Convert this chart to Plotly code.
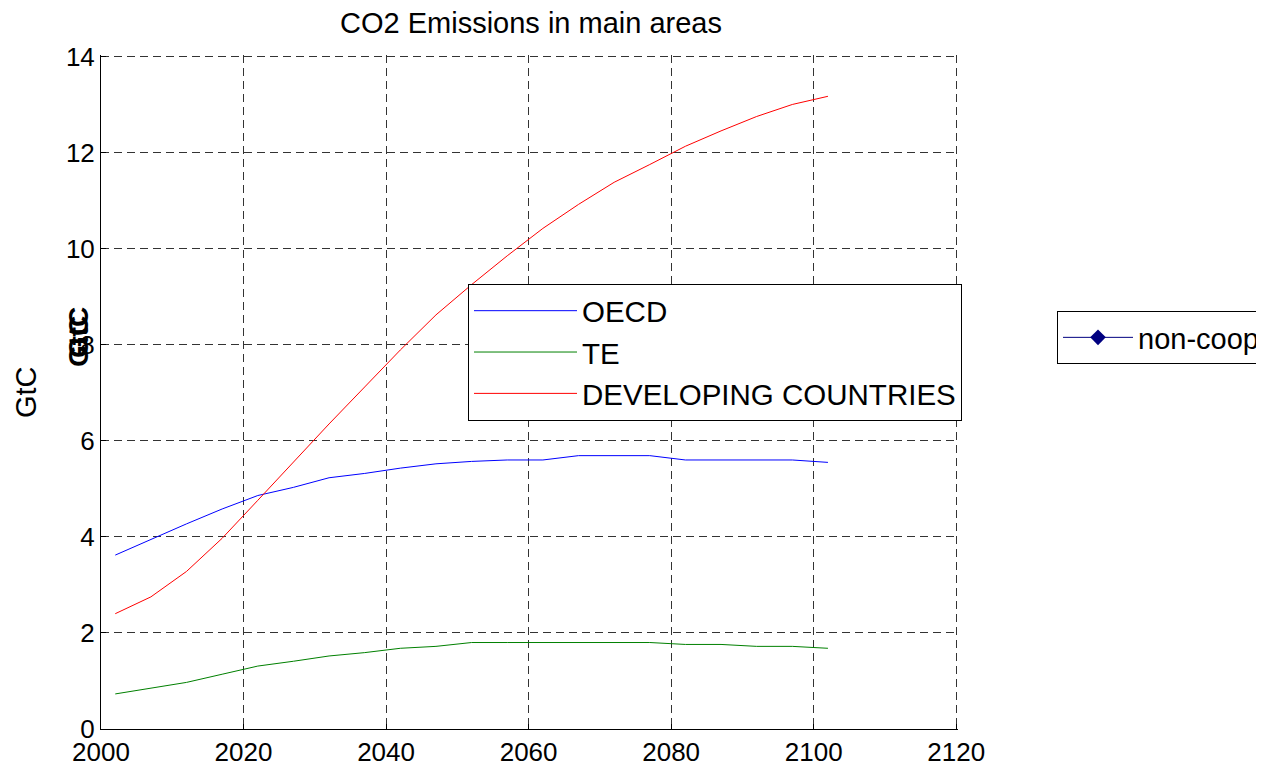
import plotly.graph_objects as go

years = [2002, 2007, 2012, 2017, 2022, 2027, 2032, 2037, 2042, 2047, 2052,
         2057, 2062, 2067, 2072, 2077, 2082, 2087, 2092, 2097, 2102]
oecd = [3.62, 3.95, 4.27, 4.58, 4.86, 5.03, 5.23, 5.32, 5.43, 5.52, 5.57,
        5.60, 5.60, 5.69, 5.69, 5.69, 5.60, 5.60, 5.60, 5.60, 5.55]
te = [0.73, 0.85, 0.97, 1.14, 1.31, 1.41, 1.52, 1.59, 1.68, 1.72, 1.80,
      1.80, 1.80, 1.80, 1.80, 1.80, 1.76, 1.76, 1.72, 1.72, 1.68]
developing = [2.40, 2.75, 3.28, 3.97, 4.76, 5.56, 6.35, 7.12, 7.89, 8.62, 9.25,
              9.85, 10.42, 10.92, 11.38, 11.75, 12.13, 12.45, 12.75, 13.00, 13.17]
x_ticks = [2000, 2020, 2040, 2060, 2080, 2100, 2120]
y_ticks = [0, 2, 4, 6, 8, 10, 12, 14]

FONT = "Liberation Sans, Arial, Helvetica, sans-serif"
OFF = 8  # page body margin
W, H = 1264 - OFF, 772 - OFF

fig = go.Figure()
fig.add_trace(go.Scatter(x=years, y=oecd, mode="lines", name="OECD",
                         line=dict(color="#0000FF", width=1)))
fig.add_trace(go.Scatter(x=years, y=te, mode="lines", name="TE",
                         line=dict(color="#008000", width=1)))
fig.add_trace(go.Scatter(x=years, y=developing, mode="lines", name="DEVELOPING COUNTRIES",
                         line=dict(color="#FF0000", width=1)))
fig.add_trace(go.Scatter(x=[None], y=[None], mode="lines+markers", name="non-coop",
                         line=dict(color="#000080", width=1),
                         marker=dict(symbol="diamond", size=12, color="#000080"),
                         legend="legend2"))

axis_common = dict(
    showgrid=True, gridcolor="#333333", griddash="8px,5px", gridwidth=1,
    showline=True, linecolor="black", linewidth=1, mirror=False,
    ticks="inside", ticklen=5, tickcolor="black", zeroline=False,
    automargin=False,
    tickfont=dict(family=FONT, size=26, color="black"),
)

fig.update_layout(
    width=W, height=H,
    margin=dict(l=101 - OFF, r=1264 - 958, t=55 - OFF, b=772 - 729, autoexpand=False),
    paper_bgcolor="white", plot_bgcolor="white",
    title=dict(text="CO2 Emissions in main areas", x=(531 - OFF) / W,
               xanchor="center", y=1 - (23 - OFF) / H, yanchor="middle",
               font=dict(family=FONT, size=29, color="black")),
    xaxis=dict(range=[2000, 2120.25], tickvals=x_ticks, **axis_common),
    yaxis=dict(range=[0, 14.03], tickvals=y_ticks, **axis_common),
    legend=dict(x=(468 - 101) / 857, y=(729 - 284) / 674, xanchor="left", yanchor="top",
                bgcolor="white", bordercolor="black", borderwidth=1,
                font=dict(family=FONT, size=29.5, color="black"),
                itemwidth=103, tracegroupgap=0),
    legend2=dict(x=(1057 - 101) / 857, y=(729 - 311) / 674, xanchor="left", yanchor="top",
                 bgcolor="white", bordercolor="black", borderwidth=1,
                 font=dict(family=FONT, size=29, color="black"), itemwidth=70),
    showlegend=True,
    annotations=[
        dict(text="GtC", xref="paper", yref="paper", x=(26 - 101) / 857, y=(729 - 392) / 674,
             xanchor="center", yanchor="middle", textangle=-90, showarrow=False,
             font=dict(family=FONT, size=29, color="black")),
        dict(text="<b>GtC</b>", xref="paper", yref="paper", x=(78 - 101) / 857, y=(729 - 333) / 674,
             xanchor="center", yanchor="middle", textangle=-90, showarrow=False,
             font=dict(family=FONT, size=28, color="black")),
        dict(text="<b>GtC</b>", xref="paper", yref="paper", x=(78 - 101) / 857, y=(729 - 342) / 674,
             xanchor="center", yanchor="middle", textangle=-90, showarrow=False,
             font=dict(family=FONT, size=28, color="black")),
    ],
)

fig.write_html("out.html")
